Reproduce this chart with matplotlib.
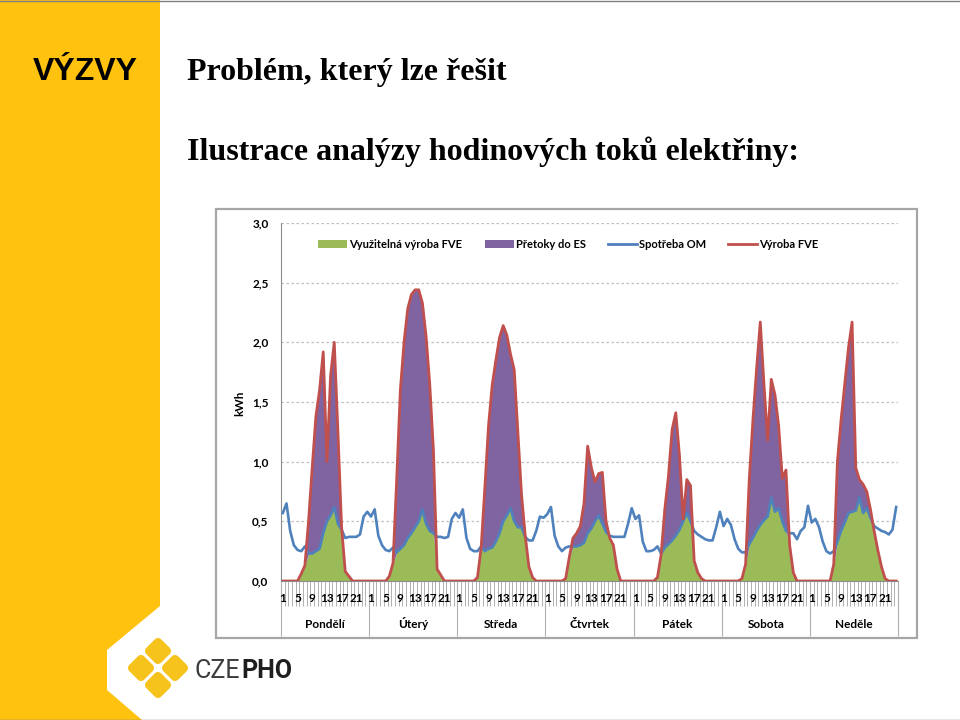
import numpy as np
import matplotlib
matplotlib.use("Agg")
import matplotlib.pyplot as plt
from matplotlib.patches import Rectangle, Polygon, Patch, FancyBboxPatch
from matplotlib.lines import Line2D
import matplotlib.transforms as mtransforms

plt.rcParams['font.family'] = ['Lato', 'DejaVu Sans']

# ---------------- data ----------------
days = ["Pondělí", "Úterý", "Středa", "Čtvrtek", "Pátek", "Sobota", "Neděle"]
hour_labels = ["1", "5", "9", "13", "17", "21"]
y_ticks = [0.0, 0.5, 1.0, 1.5, 2.0, 2.5, 3.0]

# Výroba FVE (production), hourly per day
prod_mon = [0, 0, 0, 0, 0, 0.06, 0.13, 0.5, 0.95, 1.38, 1.6, 1.92, 1.0, 1.72, 2.0, 1.25, 0.45, 0.08, 0.04, 0, 0, 0, 0, 0]
prod_tue = [0, 0, 0, 0, 0, 0.04, 0.15, 0.85, 1.6, 2.0, 2.28, 2.4, 2.44, 2.44, 2.33, 2.05, 1.65, 1.1, 0.1, 0.05, 0, 0, 0, 0]
prod_wed = [0, 0, 0, 0, 0, 0.03, 0.28, 0.78, 1.3, 1.64, 1.85, 2.04, 2.14, 2.06, 1.9, 1.77, 1.25, 0.72, 0.38, 0.12, 0.03, 0, 0, 0]
prod_thu = [0, 0, 0, 0, 0, 0.02, 0.2, 0.36, 0.4, 0.46, 0.65, 1.13, 0.95, 0.83, 0.9, 0.91, 0.5, 0.36, 0.3, 0.1, 0, 0, 0, 0]
prod_fri = [0, 0, 0, 0, 0, 0, 0.03, 0.22, 0.6, 0.88, 1.27, 1.41, 1.05, 0.52, 0.85, 0.8, 0.17, 0.07, 0.02, 0, 0, 0, 0, 0]
prod_sat = [0, 0, 0, 0, 0, 0.02, 0.14, 0.85, 1.35, 1.78, 2.17, 1.65, 1.18, 1.69, 1.56, 1.3, 0.86, 0.93, 0.3, 0.07, 0, 0, 0, 0]
prod_sun = [0, 0, 0, 0, 0, 0, 0.14, 1.0, 1.35, 1.65, 1.95, 2.17, 0.95, 0.85, 0.81, 0.75, 0.6, 0.42, 0.26, 0.12, 0.02, 0, 0, 0]

# Spotřeba OM (consumption), hourly per day
cons_mon = [0.57, 0.65, 0.42, 0.3, 0.26, 0.25, 0.29, 0.23, 0.23, 0.25, 0.27, 0.4, 0.5, 0.55, 0.62, 0.48, 0.43, 0.36, 0.37, 0.37, 0.37, 0.39, 0.54, 0.58]
cons_tue = [0.54, 0.6, 0.38, 0.3, 0.26, 0.25, 0.28, 0.24, 0.27, 0.3, 0.36, 0.4, 0.45, 0.5, 0.6, 0.48, 0.42, 0.4, 0.37, 0.37, 0.36, 0.37, 0.52, 0.57]
cons_wed = [0.53, 0.6, 0.36, 0.27, 0.25, 0.25, 0.29, 0.25, 0.27, 0.28, 0.33, 0.4, 0.5, 0.55, 0.61, 0.5, 0.45, 0.45, 0.37, 0.34, 0.34, 0.42, 0.54, 0.53]
cons_thu = [0.56, 0.62, 0.38, 0.29, 0.25, 0.28, 0.29, 0.29, 0.29, 0.3, 0.32, 0.4, 0.44, 0.5, 0.55, 0.48, 0.41, 0.38, 0.37, 0.37, 0.37, 0.37, 0.48, 0.61]
cons_fri = [0.52, 0.55, 0.33, 0.25, 0.25, 0.26, 0.29, 0.23, 0.28, 0.31, 0.34, 0.38, 0.43, 0.5, 0.57, 0.5, 0.42, 0.39, 0.37, 0.35, 0.34, 0.34, 0.45, 0.58]
cons_sat = [0.46, 0.52, 0.47, 0.35, 0.27, 0.24, 0.24, 0.31, 0.36, 0.42, 0.47, 0.51, 0.54, 0.7, 0.58, 0.61, 0.5, 0.42, 0.4, 0.4, 0.35, 0.42, 0.45, 0.63]
cons_sun = [0.49, 0.52, 0.45, 0.33, 0.25, 0.23, 0.25, 0.33, 0.42, 0.49, 0.57, 0.58, 0.59, 0.7, 0.57, 0.61, 0.53, 0.46, 0.44, 0.42, 0.41, 0.39, 0.43, 0.62]

series_names = ["Využitelná výroba FVE", "Přetoky do ES", "Spotřeba OM", "Výroba FVE"]

prod = np.concatenate([prod_mon, prod_tue, prod_wed, prod_thu, prod_fri, prod_sat, prod_sun])
cons = np.concatenate([cons_mon, cons_tue, cons_wed, cons_thu, cons_fri, cons_sat, cons_sun])
usable = np.minimum(prod, cons)
n = len(prod)
x = np.arange(n) + 0.5

GREEN = "#9BBB59"
PURPLE = "#8064A2"
BLUE = "#4F81BD"
RED = "#C0504D"
YELLOW = "#FFC20E"

W, H = 960, 720
def fx(px):
    return px / W
def fy(py):
    return 1 - py / H

fig = plt.figure(figsize=(9.6, 7.2), dpi=100)
fig.patch.set_facecolor("white")

# slide decorations
fig.patches.append(Rectangle((0, 0), fx(160), 1, transform=fig.transFigure,
                             facecolor=YELLOW, edgecolor="none", zorder=-3))
cut = [(160, 606), (107, 650), (107, 690), (142, 720), (160, 720)]
fig.patches.append(Polygon([(fx(a), fy(b)) for a, b in cut], closed=True,
                           transform=fig.transFigure, facecolor="white",
                           edgecolor="none", zorder=-2))
fig.lines.append(Line2D([0, 1], [fy(0.5), fy(0.5)], transform=fig.transFigure,
                        color="#808080", lw=1))
fig.lines.append(Line2D([0, 1], [fy(719.5), fy(719.5)], transform=fig.transFigure,
                        color="#808080", lw=1))

# titles
fig.text(fx(33), fy(80), "VÝZVY", family=["Liberation Sans", "DejaVu Sans"],
         weight="bold", fontsize=23, va="baseline", ha="left")
fig.text(fx(187), fy(80), "Problém, který lze řešit",
         family=["Liberation Serif", "DejaVu Serif"], weight="bold",
         fontsize=23, va="baseline", ha="left")
fig.text(fx(187), fy(160), "Ilustrace analýzy hodinových toků elektřiny:",
         family=["Liberation Serif", "DejaVu Serif"], weight="bold",
         fontsize=23, va="baseline", ha="left")

# chart frame
fig.patches.append(Rectangle((fx(216), fy(638)), fx(917) - fx(216), fy(209) - fy(638),
                             transform=fig.transFigure, fill=False,
                             edgecolor="#A6A6A6", lw=1.6, zorder=1))

# ---------------- chart ----------------
ax_h = 581 - 223
ax = fig.add_axes([fx(281), fy(581), fx(898) - fx(281), ax_h / H])
ax.set_xlim(0, n)
ax.set_ylim(0, 3)

ax.fill_between(x, 0, usable, color=GREEN, lw=0, zorder=2)
ax.fill_between(x, usable, prod, color=PURPLE, lw=0, zorder=2)
ax.plot(x, cons, color=BLUE, lw=1.9, zorder=3, solid_joinstyle="round")
ax.plot(x, prod, color=RED, lw=2.0, zorder=4, solid_joinstyle="round")

ax.set_yticks(y_ticks)
ax.set_yticklabels([f"{v:.1f}".replace(".", ",") for v in y_ticks],
                   fontsize=8.5, fontweight="bold")
ax.tick_params(axis="y", length=0, pad=9)
ax.set_xticks([])
ax.yaxis.grid(True, linestyle=(0, (2, 2)), color="#BFBFBF", lw=0.9)
ax.set_axisbelow(True)
for s in ["top", "right"]:
    ax.spines[s].set_visible(False)
for s in ["left", "bottom"]:
    ax.spines[s].set_color("#8C8C8C")
    ax.spines[s].set_linewidth(0.8)

trans = ax.get_xaxis_transform()
ax.vlines(np.arange(0, n + 1), -25 / ax_h, 0, transform=trans, color="#B0B0B0",
          lw=0.7, clip_on=False)
ax.vlines(np.arange(0, n + 1, 24), -55 / ax_h, 0, transform=trans, color="#B0B0B0",
          lw=0.8, clip_on=False)
label_offsets = [0, 4, 8, 12, 16, 20]
for d, day in enumerate(days):
    for off, lab in zip(label_offsets, hour_labels):
        ax.text(24 * d + off + 0.5, -17 / ax_h, lab, transform=trans, ha="center",
                va="center", fontsize=8.5, fontweight="bold", clip_on=False)
    ax.text(24 * d + 12, -43 / ax_h, day, transform=trans, ha="center", va="center",
            fontsize=8.5, fontweight="bold", clip_on=False)

fig.text(fx(240), fy(403), "kWh", rotation=90, ha="center", va="center",
         fontsize=8.5, fontweight="bold")

handles = [Patch(facecolor=GREEN, edgecolor="none"),
           Patch(facecolor=PURPLE, edgecolor="none"),
           Line2D([], [], color=BLUE, lw=2),
           Line2D([], [], color=RED, lw=2)]
ax.legend(handles, series_names, loc="center", bbox_to_anchor=(0.466, 0.941), ncol=4,
          frameon=False, prop={"weight": "bold", "size": 8}, handlelength=2.6,
          handletextpad=0.2, columnspacing=2.0, handleheight=0.7)

# ---------------- logo ----------------
lax = fig.add_axes([fx(100), fy(720), fx(220) - fx(100), 100 / H])
lax.set_xlim(100, 220)
lax.set_ylim(720, 620)
lax.axis("off")
s = 21
for cx, cy in [(158, 651), (141, 668), (175, 668), (158, 685)]:
    p = FancyBboxPatch((cx - s / 2, cy - s / 2), s, s,
                       boxstyle="round,pad=0,rounding_size=5",
                       facecolor="#F6C21C", edgecolor="none")
    p.set_transform(mtransforms.Affine2D().rotate_deg_around(cx, cy, 45) + lax.transData)
    p.set_clip_on(False)
    lax.add_patch(p)

t1 = fig.text(fx(195), fy(678), "CZE", family=["Roboto", "DejaVu Sans"], fontsize=18,
              color="#3C3C3C", va="baseline", ha="left")
fig.canvas.draw()
bb = t1.get_window_extent()
fig.text(bb.x1 / W + 0.5 / W, fy(678), "PHO", family=["Roboto", "DejaVu Sans"],
         fontsize=18, fontweight="bold", color="#1E1E1E", va="baseline", ha="left")

fig.savefig("out.png", dpi=100)
